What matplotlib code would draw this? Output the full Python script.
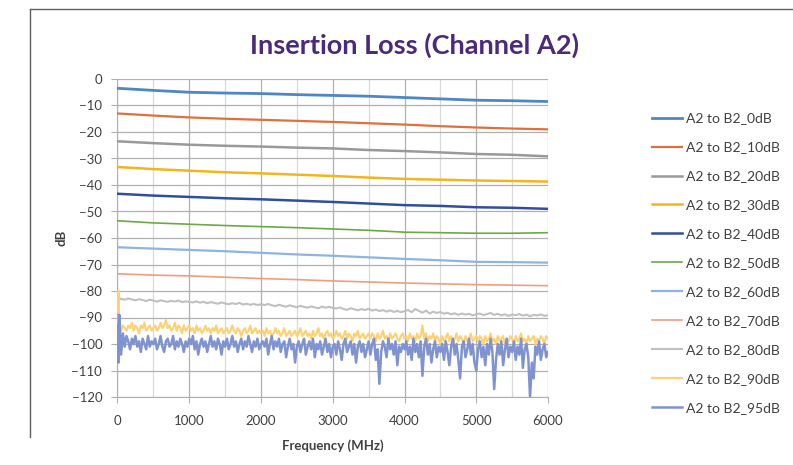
import numpy as np
import matplotlib
matplotlib.use("Agg")
import matplotlib.pyplot as plt
from matplotlib.lines import Line2D

plt.rcParams['font.family'] = ['Lato', 'DejaVu Sans']

# smooth traces, read every 500 MHz
freq = [0, 500, 1000, 1500, 2000, 2500, 3000, 3500, 4000, 4500, 5000, 5500, 6000]
a2_0db = [-3.5, -4.3, -5.0, -5.3, -5.5, -5.9, -6.2, -6.5, -7.0, -7.5, -8.0, -8.2, -8.5]
a2_10db = [-13.0, -13.8, -14.5, -15.0, -15.4, -15.8, -16.2, -16.7, -17.2, -17.8, -18.3, -18.7, -19.0]
a2_20db = [-23.5, -24.2, -24.8, -25.2, -25.5, -25.9, -26.2, -26.8, -27.2, -27.7, -28.3, -28.6, -29.2]
a2_30db = [-33.2, -34.0, -34.6, -35.2, -35.6, -36.1, -36.6, -37.2, -37.7, -38.0, -38.3, -38.5, -38.7]
a2_40db = [-43.3, -44.0, -44.5, -45.0, -45.4, -45.9, -46.4, -47.0, -47.6, -47.9, -48.4, -48.6, -49.0]
a2_50db = [-53.5, -54.3, -54.8, -55.3, -55.7, -56.1, -56.6, -57.1, -57.8, -58.0, -58.2, -58.2, -58.0]
a2_60db = [-63.5, -64.0, -64.5, -65.0, -65.6, -66.2, -66.7, -67.3, -67.9, -68.4, -69.0, -69.1, -69.3]
a2_70db = [-73.5, -74.0, -74.3, -74.8, -75.3, -75.7, -76.2, -76.6, -77.0, -77.3, -77.6, -77.8, -78.0]

# 80 dB trace: 5, 15, 25, 35 MHz then every 50 MHz
freq_80 = np.concatenate([[5, 15, 25, 35], np.arange(50, 6001, 50)])
a2_80db = [-85, -80, -83, -83,
           -83.0, -83.3, -82.8, -83.2, -83.5, -83.1, -83.4, -83.8, -83.3, -83.6, -84.0, -83.5, -83.8, -84.1, -83.7, -84.0, -83.6, -84.2, -83.9, -84.1,
           -84.3, -83.9, -84.4, -84.1, -84.6, -84.2, -84.5, -84.8, -84.3, -84.7, -85.0, -84.6, -84.9, -84.5, -85.1, -84.8, -85.2, -84.9, -85.3, -85.0,
           -85.3, -84.9, -85.4, -85.7, -85.2, -85.6, -85.9, -85.4, -85.8, -86.1, -85.6, -86.0, -86.3, -85.8, -86.2, -86.5, -85.9, -86.3, -86.0, -86.4,
           -86.6, -86.2, -86.8, -87.1, -86.5, -86.9, -87.3, -86.8, -87.2, -86.7, -87.4, -87.0, -87.6, -87.2, -87.8, -87.3, -87.9, -87.5, -88.0, -87.6,
           -87.2, -88.0, -86.8, -87.5, -88.2, -87.4, -88.5, -87.8, -88.3, -87.9, -88.6, -88.2, -88.8, -88.4, -89.0, -88.5, -88.9, -88.6, -89.2, -88.8,
           -88.5, -89.1, -88.7, -88.3, -89.0, -88.6, -89.2, -88.8, -89.4, -88.9, -89.1, -88.7, -89.3, -88.9, -89.5, -89.0, -89.2, -88.8, -89.4, -89.1]

# 90 / 95 dB traces: 5, 15 MHz then every 25 MHz (one row = 500 MHz)
freq_fine = np.concatenate([[5, 15], np.arange(25, 6001, 25)])
a2_90db = [-88, -80,
           -92, -95, -93, -94, -95, -93, -94, -92, -95, -93, -94, -96, -93, -94, -92, -95, -94, -93, -95, -94,
           -93, -95, -94, -92, -94, -93, -91, -94, -93, -95, -94, -92, -95, -93, -94, -96, -93, -95, -94, -93,
           -95, -94, -96, -93, -95, -94, -96, -95, -93, -95, -94, -96, -94, -95, -93, -96, -95, -94, -96, -95,
           -94, -96, -95, -93, -95, -96, -94, -95, -97, -95, -94, -96, -95, -93, -96, -95, -94, -96, -95, -96,
           -95, -97, -94, -96, -95, -97, -96, -94, -96, -95, -97, -96, -94, -97, -96, -95, -97, -96, -95, -97,
           -96, -94, -97, -96, -95, -97, -96, -98, -95, -97, -96, -94, -97, -96, -98, -96, -95, -97, -96, -98,
           -97, -95, -97, -96, -98, -97, -95, -98, -96, -97, -99, -96, -97, -95, -98, -97, -96, -98, -97, -96,
           -98, -96, -97, -99, -96, -98, -97, -95, -98, -97, -99, -96, -98, -97, -96, -98, -99, -97, -96, -98,
           -97, -99, -96, -98, -97, -99, -96, -98, -97, -93, -98, -96, -99, -97, -98, -96, -99, -97, -98, -100,
           -97, -99, -98, -96, -99, -97, -100, -98, -96, -99, -97, -98, -100, -97, -99, -98, -96, -99, -98, -97,
           -99, -97, -98, -100, -97, -99, -98, -96, -99, -98, -100, -97, -99, -98, -97, -100, -98, -99, -97, -98,
           -100, -97, -99, -98, -96, -99, -98, -100, -97, -99, -98, -97, -100, -98, -99, -97, -98, -100, -97, -98]
a2_95db = [-93, -107,
           -89, -104, -96, -101, -97, -99, -102, -98, -100, -97, -101, -99, -103, -98, -100, -102, -97, -101, -99, -100,
           -98, -102, -100, -97, -101, -103, -99, -98, -101, -100, -97, -102, -99, -101, -98, -100, -103, -99, -101, -98,
           -100, -97, -102, -99, -104, -100, -98, -101, -99, -103, -100, -97, -101, -99, -102, -98, -100, -104, -99, -101,
           -98, -102, -100, -97, -101, -99, -103, -100, -98, -102, -99, -101, -97, -100, -103, -99, -101, -98, -102, -100,
           -99, -101, -98, -104, -100, -97, -102, -99, -101, -98, -103, -100, -99, -105, -101, -98, -102, -100, -107, -101,
           -99, -103, -100, -98, -104, -101, -99, -102, -98, -105, -100, -102, -99, -104, -101, -98, -103, -100, -105, -101,
           -100, -104, -99, -102, -106, -100, -98, -103, -101, -99, -104, -100, -107, -101, -99, -103, -100, -105, -102, -99,
           -104, -100, -98, -106, -102, -115, -103, -99, -101, -105, -98, -102, -100, -104, -99, -108, -101, -103, -100, -102,
           -99, -104, -101, -106, -98, -103, -100, -105, -99, -112, -101, -98, -104, -100, -107, -102, -99, -105, -101, -103,
           -100, -106, -99, -103, -108, -101, -98, -104, -100, -106, -113, -101, -99, -105, -102, -98, -104, -100, -107, -110,
           -102, -99, -105, -101, -108, -100, -104, -98, -103, -117, -106, -100, -104, -99, -108, -102, -98, -105, -101, -103,
           -99, -106, -101, -104, -98, -109, -102, -100, -105, -120, -107, -113, -101, -104, -99, -106, -102, -100, -105, -103]

labels = ['A2 to B2_0dB', 'A2 to B2_10dB', 'A2 to B2_20dB', 'A2 to B2_30dB',
          'A2 to B2_40dB', 'A2 to B2_50dB', 'A2 to B2_60dB', 'A2 to B2_70dB',
          'A2 to B2_80dB', 'A2 to B2_90dB', 'A2 to B2_95dB']
colors = ['#4f86c6', '#e0703a', '#999999', '#f2b51e', '#2f4f9e', '#6aaa45',
          '#8db4e2', '#f19c80', '#c0c0c0', '#ffd070', '#7f93d1']
widths = [2.0, 1.6, 1.8, 1.8, 1.8, 1.2, 1.6, 1.2, 1.5, 1.5, 1.8]

fig = plt.figure(figsize=(7.93, 4.65), dpi=100)
ax = fig.add_axes([117.5 / 793, 1 - 397 / 465, 430.5 / 793, 318 / 465])

smooth = [a2_0db, a2_10db, a2_20db, a2_30db, a2_40db, a2_50db, a2_60db, a2_70db]
for i, ys in enumerate(smooth):
    ax.plot(freq, ys, color=colors[i], lw=widths[i], label=labels[i], zorder=3)
ax.plot(freq_80, a2_80db, color=colors[8], lw=widths[8], label=labels[8], zorder=3)
ax.plot(freq_fine, a2_90db, color=colors[9], lw=widths[9], label=labels[9], zorder=3)
ax.plot(freq_fine, a2_95db, color=colors[10], lw=widths[10], label=labels[10], zorder=3)

ax.set_xlim(0, 6000)
ax.set_ylim(-120, 0)
ax.set_xticks(range(0, 6001, 1000))
ax.set_xticks(range(500, 6000, 1000), minor=True)
ax.set_yticks(range(-120, 1, 10))
ax.grid(which='major', color='#b0b0b0', lw=0.9, zorder=0)
ax.grid(which='minor', axis='x', color='#d9d9d9', lw=0.9, zorder=0)
for s in ['top', 'right']:
    ax.spines[s].set_visible(False)
for s in ['left', 'bottom']:
    ax.spines[s].set_color('#b0b0b0')
ax.tick_params(which='both', colors='#b0b0b0', labelcolor='#404040', labelsize=9.5, length=4)
ax.tick_params(axis='x', pad=9)
ax.tick_params(axis='y', pad=7)
ax.tick_params(which='minor', length=0)
ax.set_xlabel('Frequency (MHz)', fontsize=9.5, fontweight='bold', color='#404040', labelpad=9)
ax.set_ylabel('dB', fontsize=9.5, fontweight='bold', color='#404040', labelpad=3)

fig.text(0.523, 0.903, 'Insertion Loss (Channel A2)', ha='center', va='center',
         fontsize=19.5, fontweight='bold', color='#4b2a7b')

fig.legend(loc='upper left', bbox_to_anchor=(639 / 793, 1 - 100 / 465), frameon=False,
           fontsize=10, labelspacing=1.22, handlelength=2.2, handletextpad=0.3,
           labelcolor='#404040')

# thin frame on left and top edges
fig.add_artist(Line2D([30 / 793, 30 / 793], [1 - 437 / 465, 1 - 9 / 465], color='#606060', lw=1))
fig.add_artist(Line2D([30 / 793, 1], [1 - 9 / 465, 1 - 9 / 465], color='#606060', lw=1))

fig.savefig('out.png', dpi=100)
